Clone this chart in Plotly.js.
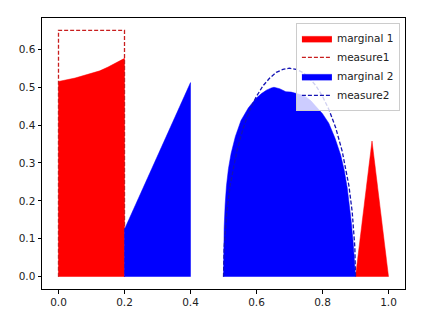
<!DOCTYPE html>
<html>
<head>
<meta charset="utf-8">
<script src="https://cdn.plot.ly/plotly-3.0.1.min.js"></script>
<style>
  html, body {margin: 0; padding: 0; background: #fff;}
  #chart {width: 423px; height: 325px;}
</style>
</head>
<body>
<div id="chart"></div>
<script>
// marginal 1 (red), two pieces
const m1aX = [0, 0, 0.05, 0.1, 0.125, 0.15, 0.2, 0.2];
const m1aY = [0, 0.515, 0.524, 0.536, 0.543, 0.553, 0.576, 0];
const m1bX = [0.9, 0.95, 1.0];
const m1bY = [0, 0.358, 0];

// marginal 2 (blue), ramp + dome
const m2aX = [0.2, 0.2, 0.4, 0.4];
const m2aY = [0, 0.125, 0.512, 0];
const m2bX = [0.5, 0.5, 0.502, 0.505, 0.509, 0.515, 0.523, 0.536, 0.553, 0.575, 0.598, 0.615,
              0.63, 0.645, 0.653, 0.67, 0.689, 0.705, 0.719, 0.735, 0.75, 0.765, 0.779,
              0.8, 0.819, 0.838, 0.855, 0.866, 0.875, 0.882, 0.887, 0.893, 0.897, 0.9];
const m2bY = [0, 0.06, 0.13, 0.19, 0.24, 0.285, 0.325, 0.37, 0.412, 0.445, 0.47, 0.483,
              0.492, 0.498, 0.4997, 0.496, 0.488, 0.487, 0.484, 0.48, 0.474, 0.464, 0.45,
              0.43, 0.405, 0.365, 0.321, 0.28, 0.234, 0.19, 0.146, 0.09, 0.04, 0];

// measure1: uniform block
const ms1X = [0, 0, 0.2, 0.2];
const ms1Y = [0, 0.65, 0.65, 0];

// measure2: dome
const ms2X = [0.5, 0.502, 0.51, 0.52, 0.54, 0.56, 0.58, 0.6, 0.62, 0.64, 0.66, 0.68, 0.7,
              0.72, 0.74, 0.76, 0.78, 0.8, 0.82, 0.84, 0.86, 0.88, 0.89, 0.898, 0.9];
const ms2Y = [0, 0.078, 0.171, 0.24, 0.33, 0.393, 0.44, 0.476, 0.504, 0.524, 0.539, 0.547, 0.55,
              0.547, 0.539, 0.524, 0.504, 0.476, 0.44, 0.393, 0.33, 0.24, 0.171, 0.078, 0];

const red = '#ff0000';
const blue = '#0000ff';

function fillTrace(x, y, color, name, show) {
    return {
        x: x, y: y,
        type: 'scatter',
        mode: 'lines',
        fill: 'toself',
        fillcolor: color,
        line: {color: color, width: 0.5},
        name: name,
        legendgroup: name,
        showlegend: show,
        hoverinfo: 'skip'
    };
}

const data = [
    fillTrace(m1aX, m1aY, red, 'marginal 1', true),
    fillTrace(m1bX, m1bY, red, 'marginal 1', false),
    {
        x: ms1X, y: ms1Y,
        type: 'scatter', mode: 'lines',
        line: {color: '#c81e1e', width: 1.3, dash: '4px,2px'},
        name: 'measure1'
    },
    fillTrace(m2aX, m2aY, blue, 'marginal 2', true),
    fillTrace(m2bX, m2bY, blue, 'marginal 2', false),
    {
        x: ms2X, y: ms2Y,
        type: 'scatter', mode: 'lines',
        line: {color: '#1414b4', width: 1.3, dash: '4px,2px'},
        name: 'measure2'
    }
];

const layout = {
    width: 423,
    height: 325,
    margin: {l: 42, r: 18, t: 18, b: 36},
    paper_bgcolor: '#fff',
    plot_bgcolor: '#fff',
    font: {family: 'DejaVu Sans', size: 10.5, color: '#222'},
    showlegend: true,
    legend: {
        x: 0.986, y: 0.982,
        xanchor: 'right', yanchor: 'top',
        bgcolor: 'rgba(255,255,255,0.8)',
        bordercolor: '#cccccc',
        borderwidth: 1,
        font: {size: 10.5},
        itemwidth: 30,
        tracegroupgap: 0,
        traceorder: 'normal'
    },
    xaxis: {
        range: [-0.05, 1.05],
        tickvals: [0, 0.2, 0.4, 0.6, 0.8, 1.0],
        tickformat: '.1f',
        ticks: 'outside', ticklen: 3.5, tickcolor: '#000',
        showline: true, mirror: true, linecolor: '#000', linewidth: 1,
        showgrid: false, zeroline: false
    },
    yaxis: {
        range: [-0.0325, 0.6825],
        tickvals: [0, 0.1, 0.2, 0.3, 0.4, 0.5, 0.6],
        tickformat: '.1f',
        ticks: 'outside', ticklen: 3.5, tickcolor: '#000',
        showline: true, mirror: true, linecolor: '#000', linewidth: 1,
        showgrid: false, zeroline: false
    }
};

Plotly.newPlot('chart', data, layout, {staticPlot: true});
</script>
</body>
</html>
